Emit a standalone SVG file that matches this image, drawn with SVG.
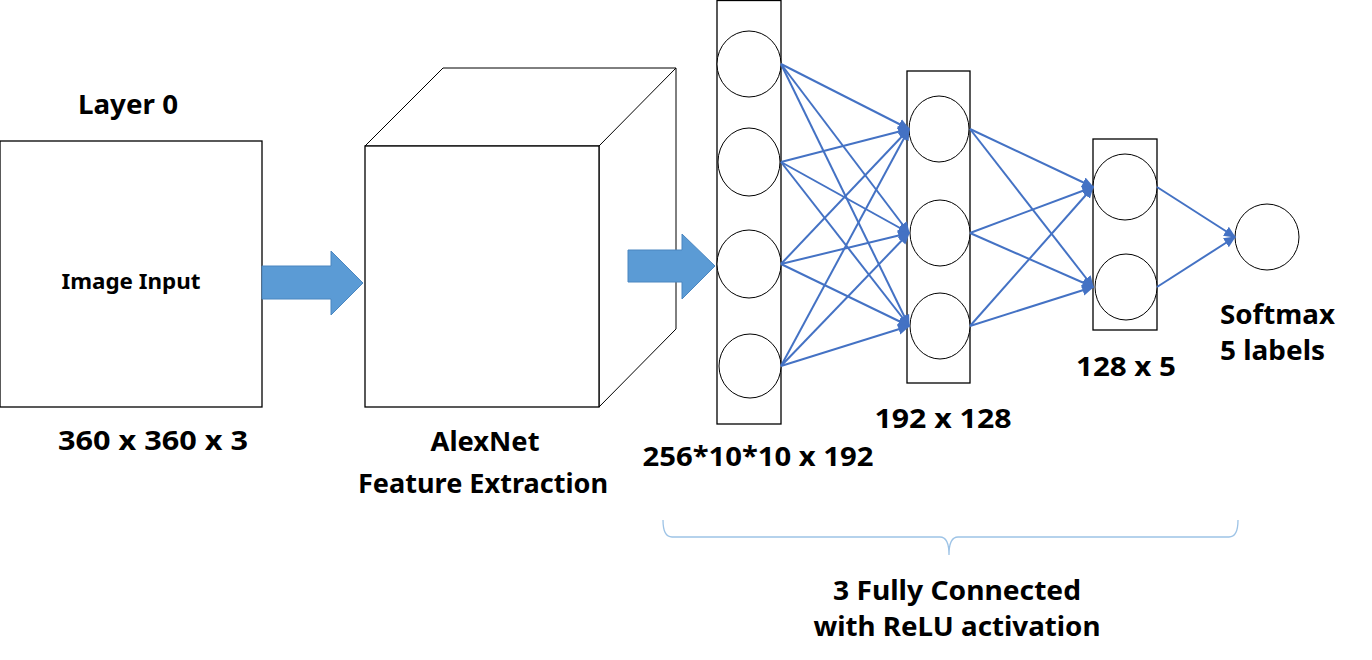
<svg xmlns="http://www.w3.org/2000/svg" width="1372" height="660" viewBox="0 0 1372 660">
<defs>
<marker id="ah" markerUnits="userSpaceOnUse" markerWidth="12" markerHeight="12" viewBox="0 0 10 10" refX="9" refY="5" orient="auto">
<path d="M0,0.5 L10,5 L0,9.5 z" fill="#4472C4"/>
</marker>
<style>
.box{fill:#fff;stroke:#000;stroke-width:1.3}
.thin{fill:#fff;stroke:#000;stroke-width:1}
.node{fill:#fff;stroke:#000;stroke-width:1}
.fat{fill:#5B9BD5;stroke:#4A86C0;stroke-width:1}
.c{stroke:#4472C4;stroke-width:2;fill:none;marker-end:url(#ah)}
.t{font-family:"Noto Sans","Noto Sans CJK KR",sans-serif;font-weight:700;fill:#000}
.l{font-size:27px}
.s{font-size:22px}
</style>
</defs>
<rect width="1372" height="660" fill="#fff"/>

<g id="input">
<rect class="box" x="0" y="141" width="262" height="266"/>
<text class="t s" x="131" y="289" text-anchor="middle" textLength="139" lengthAdjust="spacingAndGlyphs">Image Input</text>
<text class="t l" x="128" y="114" text-anchor="middle" textLength="100" lengthAdjust="spacingAndGlyphs">Layer 0</text>
<text class="t l" x="153" y="450" text-anchor="middle" textLength="190" lengthAdjust="spacingAndGlyphs">360 x 360 x 3</text>
</g>

<g id="arrow1">
<path class="fat" d="M262,266 L331,266 L331,251 L363,283 L331,315 L331,299 L262,299 z"/>
</g>

<g id="alexnet">
<path class="thin" d="M365,146 L443,68 L676,68 L676,329 L599,407 L599,146 z"/>
<path d="M599,146 L676,68" stroke="#000" stroke-width="1" fill="none"/>
<rect class="box" x="365" y="146" width="234" height="261"/>
<text class="t l" x="485" y="451" text-anchor="middle" textLength="109" lengthAdjust="spacingAndGlyphs">AlexNet</text>
<text class="t l" x="483" y="493" text-anchor="middle" textLength="250" lengthAdjust="spacingAndGlyphs">Feature Extraction</text>
</g>

<g id="arrow2">
<path class="fat" d="M628,250 L682,250 L682,234 L715,266 L682,299 L682,282 L628,282 z"/>
</g>

<g id="fc1">
<rect class="box" x="717" y="0.5" width="64" height="423.5"/>
<ellipse class="node" cx="749" cy="64" rx="32" ry="33"/>
<ellipse class="node" cx="749" cy="162" rx="31" ry="34"/>
<ellipse class="node" cx="749" cy="264" rx="32" ry="34"/>
<ellipse class="node" cx="750" cy="366" rx="31" ry="32"/>
<text class="t l" x="758" y="466" text-anchor="middle" textLength="231" lengthAdjust="spacingAndGlyphs">256*10*10 x 192</text>
</g>

<g id="fc2">
<rect class="box" x="907" y="71" width="63" height="312"/>
<ellipse class="node" cx="939" cy="129" rx="30" ry="33"/>
<ellipse class="node" cx="940" cy="233" rx="30" ry="33"/>
<ellipse class="node" cx="940" cy="326" rx="30" ry="33"/>
<text class="t l" x="943" y="428" text-anchor="middle" textLength="137" lengthAdjust="spacingAndGlyphs">192 x 128</text>
</g>

<g id="fc3">
<rect class="box" x="1093" y="139" width="64" height="191"/>
<ellipse class="node" cx="1125" cy="187" rx="32" ry="33"/>
<ellipse class="node" cx="1126" cy="287" rx="31" ry="33"/>
<text class="t l" x="1126" y="376" text-anchor="middle" textLength="100" lengthAdjust="spacingAndGlyphs">128 x 5</text>
</g>

<g id="output">
<ellipse class="node" cx="1267" cy="237" rx="32" ry="33"/>
<text class="t l" x="1220" y="324" textLength="115" lengthAdjust="spacingAndGlyphs">Softmax</text>
<text class="t l" x="1220" y="360" textLength="105" lengthAdjust="spacingAndGlyphs">5 labels</text>
</g>

<g id="connectors">
<line class="c" x1="781" y1="64" x2="909" y2="129"/>
<line class="c" x1="781" y1="64" x2="909" y2="233"/>
<line class="c" x1="781" y1="64" x2="909" y2="326"/>
<line class="c" x1="781" y1="162" x2="909" y2="129"/>
<line class="c" x1="781" y1="162" x2="909" y2="233"/>
<line class="c" x1="781" y1="162" x2="909" y2="326"/>
<line class="c" x1="781" y1="264" x2="909" y2="129"/>
<line class="c" x1="781" y1="264" x2="909" y2="233"/>
<line class="c" x1="781" y1="264" x2="909" y2="326"/>
<line class="c" x1="781" y1="366" x2="909" y2="129"/>
<line class="c" x1="781" y1="366" x2="909" y2="233"/>
<line class="c" x1="781" y1="366" x2="909" y2="326"/>
<line class="c" x1="970" y1="129" x2="1093" y2="187"/>
<line class="c" x1="970" y1="129" x2="1093" y2="287"/>
<line class="c" x1="970" y1="233" x2="1093" y2="187"/>
<line class="c" x1="970" y1="233" x2="1093" y2="287"/>
<line class="c" x1="970" y1="326" x2="1093" y2="187"/>
<line class="c" x1="970" y1="326" x2="1093" y2="287"/>
<line class="c" x1="1157" y1="187" x2="1235" y2="237"/>
<line class="c" x1="1157" y1="287" x2="1235" y2="237"/>
</g>

<g id="brace">
<path d="M663,520 Q663,537 672,537 L940,537 Q949,537 949,555 Q949,537 958,537 L1229,537 Q1238,537 1238,520" fill="none" stroke="#9DC3E6" stroke-width="1.3"/>
<text class="t l" x="957" y="600" text-anchor="middle" textLength="248" lengthAdjust="spacingAndGlyphs">3 Fully Connected</text>
<text class="t l" x="957" y="636" text-anchor="middle" textLength="287" lengthAdjust="spacingAndGlyphs">with ReLU activation</text>
</g>
</svg>
